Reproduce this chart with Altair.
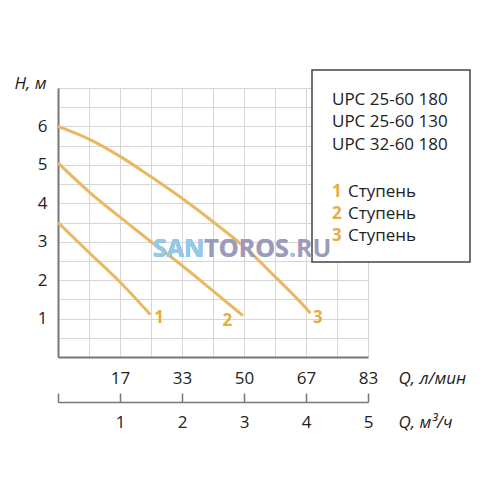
import altair as alt
import pandas as pd

# ---- data ----
flow_1 = [0.0, 0.5, 1.0, 1.49]
head_1 = [3.5, 2.72, 1.95, 1.1]
flow_2 = [0.0, 0.5, 1.0, 1.5, 2.0, 2.5, 2.98]
head_2 = [5.05, 4.3, 3.64, 3.0, 2.38, 1.72, 1.08]
flow_3 = [0.0, 0.5, 1.0, 1.5, 2.0, 2.5, 3.0, 3.5, 4.0, 4.07]
head_3 = [6.0, 5.67, 5.22, 4.69, 4.13, 3.52, 2.87, 2.09, 1.27, 1.14]

stages = ["1", "2", "3"]
stage_label_q = [1.63, 2.73, 4.19]
stage_label_h = [1.01, 0.94, 1.01]

models = ["UPC 25-60 180", "UPC 25-60 130", "UPC 32-60 180"]
stage_word = "Ступень"

m3h_ticks = [1, 2, 3, 4, 5]
lmin_labels = ["17", "33", "50", "67", "83"]
head_labels = [1, 2, 3, 4, 5, 6]

FONT = "Open Sans"
CURVE = "#E9B862"
NUMC = "#E8AB45"
AXC = "#777777"
GRIDC = "#d6d6d6"
TXT = "#222222"

curves_df = pd.concat([
    pd.DataFrame({"q": flow_1, "h": head_1, "stage": "1"}),
    pd.DataFrame({"q": flow_2, "h": head_2, "stage": "2"}),
    pd.DataFrame({"q": flow_3, "h": head_3, "stage": "3"}),
])
labels_df = pd.DataFrame({"q": stage_label_q, "h": stage_label_h, "stage": stages})
one = pd.DataFrame({"a": [0]})

xgrid = [i * 0.5 for i in range(11)]
ygrid = [i * 0.5 for i in range(15)]

lmin_expr = ""
for v, l in zip(m3h_ticks, lmin_labels):
    lmin_expr += f"datum.value == {v} ? '{l}' : "
lmin_expr += "''"

head_expr = ("indexof([" + ",".join(str(v) for v in head_labels)
             + "], datum.value) >= 0 ? '' + datum.value : ''")

y_axis = alt.Axis(values=ygrid, grid=True, gridColor=GRIDC, gridWidth=1,
                  ticks=False, tickSize=0, labelExpr=head_expr,
                  labelPadding=11, labelFlush=False, labelOverlap=False,
                  labelFont=FONT, labelFontSize=17, labelColor=TXT,
                  domainColor=AXC, domainWidth=2,
                  title="H, м", titleAngle=0, titleX=-28, titleY=-5,
                  titleAlign="center", titleBaseline="middle", titleFont=FONT,
                  titleFontSize=17, titleFontStyle="italic",
                  titleFontWeight="normal", titleColor=TXT)
y_scale = alt.Scale(domain=[0, 7], nice=False)

curves = alt.Chart(curves_df).mark_line(
    color=CURVE, strokeWidth=3, interpolate="monotone"
).encode(
    x=alt.X("q:Q", scale=alt.Scale(domain=[0, 5], nice=False, zero=True),
            axis=alt.Axis(values=xgrid, grid=True, gridColor=GRIDC, gridWidth=1,
                          ticks=False, tickSize=0, labelExpr=lmin_expr,
                          labelPadding=13, labelBaseline="top", labelFlush=False,
                          labelOverlap=False, labelFont=FONT, labelFontSize=17,
                          labelColor=TXT, domainColor=AXC, domainWidth=2,
                          title="Q, л/мин", titleX=340, titleY=21, titleAlign="left",
                          titleBaseline="middle", titleFont=FONT, titleFontSize=17,
                          titleFontStyle="italic", titleFontWeight="normal",
                          titleColor=TXT)),
    y=alt.Y("h:Q", scale=y_scale, axis=y_axis),
    detail="stage:N",
)

nums = alt.Chart(labels_df).mark_text(
    font=FONT, fontSize=17, fontWeight="bold", color=NUMC
).encode(
    x=alt.X("q:Q", scale=alt.Scale(domain=[0, 5], nice=False, zero=True),
            axis=alt.Axis(orient="top", offset=-314, values=[0] + m3h_ticks, grid=False,
                          ticks=True, tickSize=9, tickColor=AXC, tickWidth=1.5,
                          domainColor=AXC, domainWidth=1.5,
                          labelExpr="datum.value > 0 ? datum.label : ''",
                          labelPadding=-29, labelBaseline="middle", labelFlush=False,
                          labelOverlap=False, labelFont=FONT, labelFontSize=17,
                          labelColor=TXT,
                          title="Q, м³/ч", titleX=340, titleY=20, titleAlign="left",
                          titleBaseline="middle", titleFont=FONT, titleFontSize=17,
                          titleFontStyle="italic", titleFontWeight="normal",
                          titleColor=TXT)),
    y=alt.Y("h:Q", scale=y_scale, axis=y_axis),
    text="stage:N",
)

box = alt.Chart(one).mark_rect(fill="white", stroke="#444444", strokeWidth=1.5).encode(
    x=alt.value(254), x2=alt.value(412), y=alt.value(-18), y2=alt.value(174)
)
model_text = alt.Chart(one).mark_text(
    text=models, align="left", baseline="middle", font=FONT, fontSize=17,
    lineHeight=22.7, color=TXT
).encode(x=alt.value(274), y=alt.value(11.5))
stage_nums = alt.Chart(one).mark_text(
    text=stages, align="left", baseline="middle", font=FONT, fontSize=17,
    fontWeight="bold", lineHeight=22, color=NUMC
).encode(x=alt.value(274), y=alt.value(104))
stage_words = alt.Chart(one).mark_text(
    text=[stage_word] * 3, align="left", baseline="middle", font=FONT, fontSize=17,
    lineHeight=22, color=TXT
).encode(x=alt.value(290), y=alt.value(104))

WM_BLUE = "#92CBEA"
WM_GRAY = "#9D9BB9"
def wm(txt, col):
    return alt.Chart(one).mark_text(
        text=txt, align="left", baseline="middle", font=FONT, fontSize=25,
        fontWeight="bold", color=col
    ).encode(x=alt.value(95), y=alt.value(161))

watermark = [wm("SANTOROS.RU", WM_GRAY), wm("SANTOROS.", WM_BLUE),
             wm("SANTOROS", WM_GRAY), wm("SAN", WM_BLUE)]

chart = alt.layer(
    curves, nums, box, model_text, stage_nums, stage_words, *watermark
).resolve_scale(x="independent").properties(
    width=310, height=269,
    autosize=alt.AutoSizeParams(type="none"),
    padding={"left": 50, "top": 80, "right": 124, "bottom": 120},
).configure_view(stroke=None)

chart.save("out.html", embed_options={"renderer": "svg", "actions": False})
